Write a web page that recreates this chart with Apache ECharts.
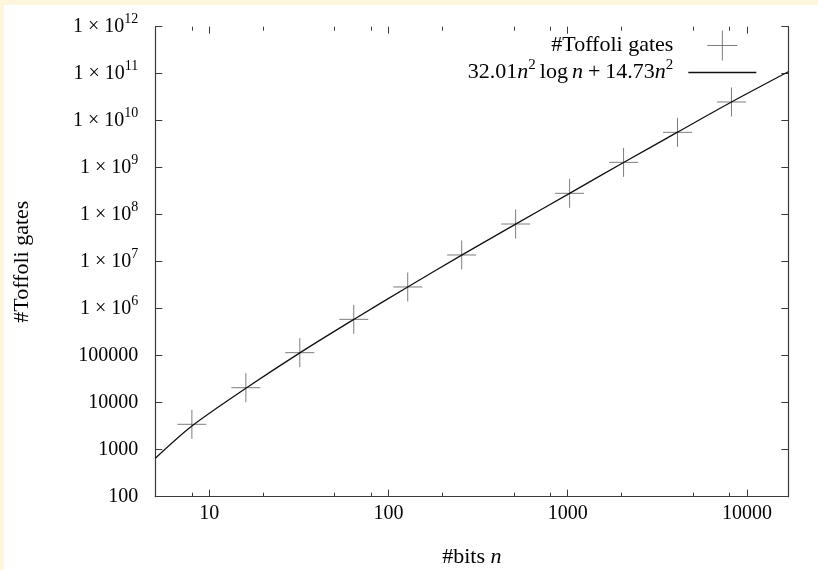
<!DOCTYPE html>
<html>
<head>
<meta charset="utf-8">
<script src="https://cdn.jsdelivr.net/npm/echarts@6/dist/echarts.min.js"></script>
<style>
  html, body { margin: 0; padding: 0; background: #fdf5dc; }
  #chart { position: absolute; left: 4px; top: 5px; width: 814px; height: 565px; background: #fff; }
</style>
</head>
<body>
<div id="chart"></div>
<script>
// measured points: bit size n and number of Toffoli gates
const bits = [8, 16, 32, 64, 128, 256, 512, 1024, 2048, 4096, 8192];
const toffoliGates = [3470, 20850, 116000, 594000, 2.9e6, 1.39e7, 6.34e7, 2.85e8, 1.30e9, 5.66e9, 2.50e10];

// fitted curve, values
const fitN = [5, 8, 16, 32, 64, 128, 256, 512, 1024, 2048, 4096, 8192, 17000];
const fitValues = [656, 3190, 20240, 115000, 590000, 2.9e6, 1.38e7, 6.3e7, 2.85e8, 1.29e9, 5.7e9, 2.5e10, 1.10e11];

// axis ticks
const xMajorTicks = [10, 100, 1000, 10000];
const xMinorTicks = [8, 20, 50, 80, 200, 500, 800, 2000, 5000, 8000];
const yTicks = [100, 1e3, 1e4, 1e5, 1e6, 1e7, 1e8, 1e9, 1e10, 1e11, 1e12];

const FONT = 'Liberation Serif';
const GATES_NAME = '#Toffoli gates';
const FIT_NAME = 'fit';
const PLUS = 'path://M10,0 L10,20 M0,10 L20,10';
const AXIS_COLOR = '#3a3a3a';
const MARK_COLOR = '#5c5c5c';

// tick label text (digits)
const tickRich = {
    r: { fontFamily: FONT, fontSize: 20, color: '#000' },
    s: { fontFamily: FONT, fontSize: 14, color: '#000', padding: [0, 0, 14, 0] }
};
// words and formulas
const wordRich = {
    r: { fontFamily: FONT, fontSize: 22, color: '#000' },
    i: { fontFamily: FONT, fontSize: 22, color: '#000', fontStyle: 'italic' },
    s: { fontFamily: FONT, fontSize: 15, color: '#000', padding: [0, 0, 14, 0] },
    op: { fontFamily: FONT, fontSize: 22, color: '#000', padding: [0, 5, 0, 5] },
    fn: { fontFamily: FONT, fontSize: 22, color: '#000', padding: [0, 4, 0, 4] }
};

function yLabel(v) {
    const e = Math.round(Math.log10(v));
    if (e < 6) return '{r|' + Math.round(Math.pow(10, e)) + '}';
    return '{r|1 × 10}{s|' + e + '}';
}

function xAxisDef(position, ticks, len, withLabels) {
    return {
        type: 'log', min: 5, max: 17000, position: position,
        axisLine: { show: withLabels, lineStyle: { color: AXIS_COLOR, width: 1.2 } },
        axisTick: { show: true, inside: true, length: len, customValues: ticks,
                    lineStyle: { color: AXIS_COLOR, width: 1 } },
        axisLabel: { show: withLabels && position === 'bottom', customValues: ticks, margin: 7,
                     fontFamily: FONT, fontSize: 20, color: '#000',
                     formatter: v => String(Math.round(v)) },
        splitLine: { show: false }
    };
}

function yAxisDef(position, withLabels) {
    return {
        type: 'log', min: 100, max: 1e12, position: position,
        axisLine: { show: true, lineStyle: { color: AXIS_COLOR, width: 1.2 } },
        axisTick: { show: true, inside: true, length: 7, customValues: yTicks,
                    lineStyle: { color: AXIS_COLOR, width: 1 } },
        axisLabel: { show: withLabels, customValues: yTicks, margin: 17,
                     formatter: yLabel, rich: tickRich },
        splitLine: { show: false }
    };
}

const chart = echarts.init(document.getElementById('chart'));

const xBottom = xAxisDef('bottom', xMajorTicks, 7, true);
xBottom.name = '{r|#bits }{i|n}';
xBottom.nameLocation = 'middle';
xBottom.nameGap = 50;
xBottom.nameTextStyle = { rich: wordRich };

const yLeft = yAxisDef('left', true);
yLeft.name = GATES_NAME;
yLeft.nameLocation = 'middle';
yLeft.nameGap = 122;
yLeft.nameTextStyle = { fontFamily: FONT, fontSize: 22, color: '#000' };

chart.setOption({
    animation: false,
    grid: { left: 151.3, top: 21.7, right: 29.7, bottom: 73.3, outerBoundsMode: 'none' },
    xAxis: [
        xBottom,
        xAxisDef('bottom', xMinorTicks, 4, false),
        xAxisDef('top', xMajorTicks, 7, false),
        xAxisDef('top', xMinorTicks, 4, false)
    ],
    yAxis: [yLeft, yAxisDef('right', false)],
    legend: {
        right: 61, top: 25, orient: 'vertical', align: 'right', padding: 0,
        itemWidth: 68, itemHeight: 30, itemGap: -3,
        textStyle: { fontFamily: FONT, fontSize: 22, color: '#000', padding: [0, 10, 0, 0], rich: wordRich },
        formatter: function (name) {
            if (name === FIT_NAME) {
                return '{r|32.01}{i|n}{s|2}{fn|log}{i|n}{op|+}{r|14.73}{i|n}{s|2}';
            }
            return '{r|' + name + '}';
        },
        data: [
            { name: GATES_NAME, icon: PLUS,
              itemStyle: { color: 'transparent', borderColor: MARK_COLOR, borderWidth: 1 } },
            { name: FIT_NAME,
              itemStyle: { color: 'transparent', borderColor: 'transparent', borderWidth: 0 },
              lineStyle: { color: '#111', width: 1.3 } }
        ]
    },
    series: [
        {
            name: GATES_NAME, type: 'scatter',
            xAxisIndex: 0, yAxisIndex: 0,
            symbol: PLUS, symbolSize: 29,
            itemStyle: { color: 'transparent', borderColor: MARK_COLOR, borderWidth: 1 },
            data: bits.map((n, i) => [n, toffoliGates[i]]),
            z: 3
        },
        {
            name: FIT_NAME, type: 'line',
            xAxisIndex: 0, yAxisIndex: 0,
            symbol: 'none', smooth: 0.3,
            itemStyle: { color: '#111' },
            lineStyle: { color: '#111', width: 1.3 },
            data: fitN.map((n, i) => [n, fitValues[i]]),
            z: 4
        }
    ]
});
</script>
</body>
</html>
